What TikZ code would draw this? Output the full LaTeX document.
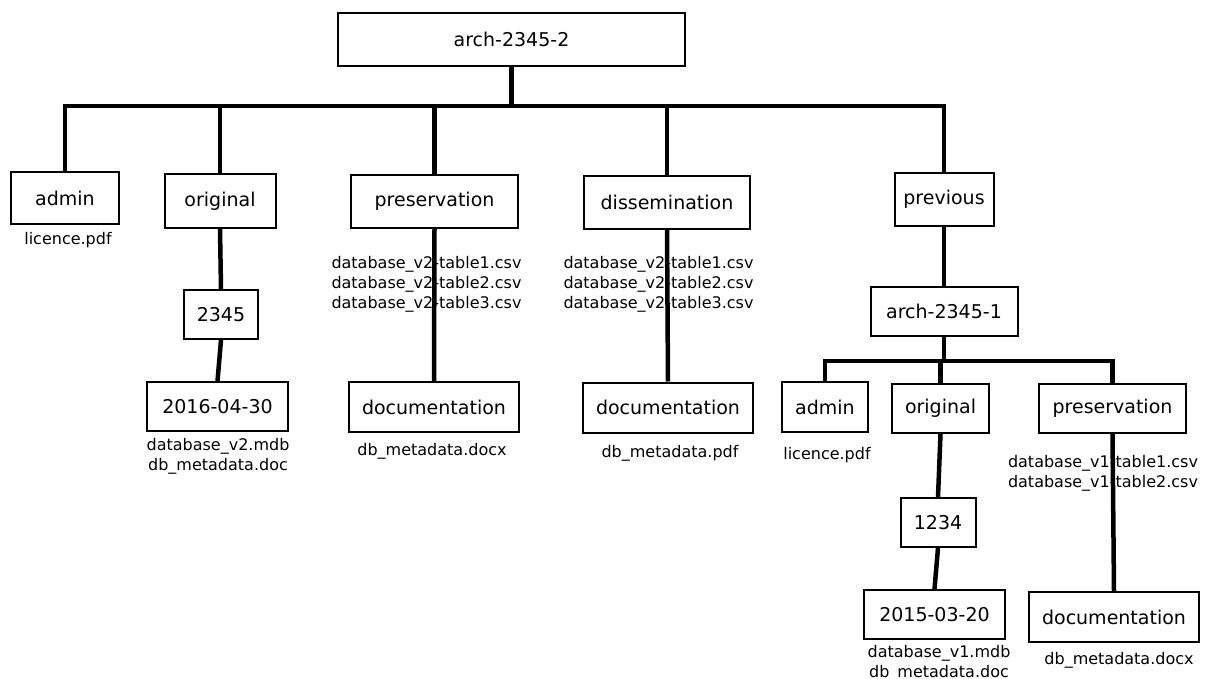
\documentclass[tikz,border=0pt]{standalone}
\usepackage{fontspec}
\setmainfont{DejaVu Sans}
\begin{document}
\begin{tikzpicture}[x=1pt,y=-1pt,
  folder/.style={draw=black, line width=2pt, fill=white, inner sep=0pt,
    minimum height=50pt, font=\fontsize{19}{23}\selectfont},
  files/.style={inner sep=0pt, align=center, font=\fontsize{16}{20}\selectfont},
  link/.style={line width=4.5pt, black}]
\useasboundingbox (0,0) rectangle (1208,679);

% folder boxes
\node[folder, minimum width=347pt, minimum height=53pt] (root) at (511.5,39.5) {arch-2345-2};
\node[folder, minimum width=108pt, minimum height=52pt] (admin) at (65,198) {admin};
\node[folder, minimum width=111pt, minimum height=54pt] (orig) at (220,201) {original};
\node[folder, minimum width=167pt, minimum height=53pt] (pres) at (434.5,201.5) {preservation};
\node[folder, minimum width=166pt, minimum height=53pt] (diss) at (667,202.5) {dissemination};
\node[folder, minimum width=99pt, minimum height=53pt] (prev) at (944,199.5) {previous};
\node[folder, minimum width=74pt, minimum height=49pt] (id2345) at (221,314.5) {2345};
\node[folder, minimum width=141pt, minimum height=49pt] (date2) at (217.5,406.5) {2016-04-30};
\node[folder, minimum width=170pt, minimum height=50pt] (presdoc) at (434,407) {documentation};
\node[folder, minimum width=170pt, minimum height=50pt] (dissdoc) at (668,407.5) {documentation};
\node[folder, minimum width=147pt, minimum height=49pt] (arch1) at (944,311.5) {arch-2345-1};
\node[folder, minimum width=86pt, minimum height=50pt] (adminB) at (825,407) {admin};
\node[folder, minimum width=97pt, minimum height=49pt] (origB) at (940.5,408.5) {original};
\node[folder, minimum width=147pt, minimum height=49pt] (presB) at (1112.5,408.5) {preservation};
\node[folder, minimum width=75pt, minimum height=49pt] (id1234) at (938,522.5) {1234};
\node[folder, minimum width=141pt, minimum height=49pt] (date1) at (934.5,614.5) {2015-03-20};
\node[folder, minimum width=170pt, minimum height=50pt] (presdocB) at (1114,617) {documentation};

% file listings
\node[files] (licA) at (68,240) {licence.pdf};
\node[files] (csvA) at (426.5,284) {database\_v2-table1.csv\\database\_v2-table2.csv\\database\_v2-table3.csv};
\node[files] (csvB) at (658.5,284) {database\_v2-table1.csv\\database\_v2-table2.csv\\database\_v2-table3.csv};
\node[files] (mdbA) at (218,456.5) {database\_v2.mdb\\db\_metadata.doc};
\node[files] (docxA) at (432,451) {db\_metadata.docx};
\node[files] (pdfA) at (670,453) {db\_metadata.pdf};
\node[files] (licB) at (827,455) {licence.pdf};
\node[files] (csvC) at (1103,473) {database\_v1-table1.csv\\database\_v1-table2.csv};
\node[files] (mdbB) at (939,663) {database\_v1.mdb\\db\_metadata.doc};
\node[files] (docxB) at (1119,660) {db\_metadata.docx};

% tree connectors
\coordinate (barA) at (0,106);
\coordinate (barB) at (0,361);
\draw[link] (root.south) -- (root.south |- barA);
\draw[link] (admin.north) -- (admin.north |- barA) -- (prev.north |- barA) -- (prev.north);
\foreach \n in {orig,pres,diss}
  \draw[link] (\n.north |- barA) -- (\n.north);
\draw[link] (orig.south) -- (id2345.north);
\draw[link] (id2345.south) -- (date2.north);
\draw[link] (pres.south) -- (presdoc.north);
\draw[link] (diss.south) -- (dissdoc.north);
\draw[link] (prev.south) -- (arch1.north);
\draw[link] (arch1.south) -- (arch1.south |- barB);
\draw[link] (adminB.north) -- (adminB.north |- barB) -- (presB.north |- barB) -- (presB.north);
\draw[link] (origB.north |- barB) -- (origB.north);
\draw[link] (origB.south) -- (id1234.north);
\draw[link] (id1234.south) -- (date1.north);
\draw[link] (presB.south) -- (presdocB.north);
\end{tikzpicture}
\end{document}
